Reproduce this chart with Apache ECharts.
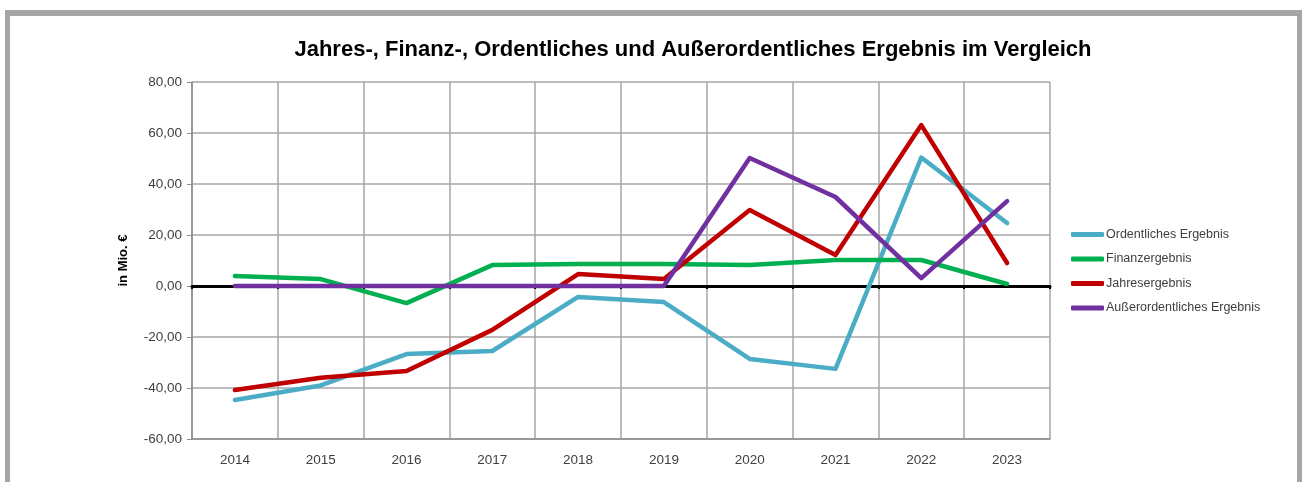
<!DOCTYPE html>
<html>
<head>
<meta charset="utf-8">
<script src="https://cdn.jsdelivr.net/npm/echarts@6/dist/echarts.min.js"></script>
<style>
  html, body { margin: 0; padding: 0; background: #fff; }
  #chart { width: 1302px; height: 482px; }
</style>
</head>
<body>
<div id="chart"></div>
<script>
const years = ['2014', '2015', '2016', '2017', '2018', '2019', '2020', '2021', '2022', '2023'];
const ordentlich = [-44.7, -39.0, -26.7, -25.5, -4.3, -6.3, -28.6, -32.5, 50.4, 24.7];
const finanz = [3.9, 2.7, -6.7, 8.2, 8.6, 8.6, 8.2, 10.2, 10.2, 0.8];
const jahres = [-40.8, -36.0, -33.3, -17.2, 4.7, 2.7, 29.8, 12.2, 63.1, 9.0];
const ausserordentlich = [0, 0, 0, 0, 0, 0, 50.2, 34.9, 3.1, 33.3];
const yTicks = { min: -60, max: 80, interval: 20 };

const font = '"Liberation Sans", Arial, sans-serif';

const chart = echarts.init(document.getElementById('chart'));

function lineSeries(name, data, color) {
    return {
        name: name,
        type: 'line',
        data: data,
        showSymbol: false,
        symbol: 'none',
        lineStyle: { color: color, width: 4.5, cap: 'round', join: 'round' },
        itemStyle: { color: color },
        z: 3
    };
}

chart.setOption({
    animation: false,
    title: {
        text: 'Jahres-, Finanz-, Ordentliches und Außerordentliches Ergebnis im Vergleich',
        left: 688,
        textAlign: 'center',
        top: 34,
        textStyle: { fontFamily: font, fontSize: 22, fontWeight: 'bold', color: '#000' }
    },
    legend: {
        orient: 'vertical',
        left: 1066,
        top: 223,
        itemWidth: 33,
        itemHeight: 5,
        itemGap: 11.5,
        icon: 'roundRect',
        textStyle: { fontFamily: font, fontSize: 12.5, color: '#404040', padding: [0, 0, 0, -3] },
        data: ['Ordentliches Ergebnis', 'Finanzergebnis', 'Jahresergebnis', 'Außerordentliches Ergebnis']
    },
    grid: { left: 192, right: 252, top: 82, bottom: 43 },
    xAxis: [{
        type: 'category',
        data: years,
        boundaryGap: true,
        axisLine: { onZero: false, lineStyle: { color: '#8c8c8c', width: 1.5 } },
        axisTick: { show: false },
        axisLabel: { fontFamily: font, fontSize: 13.5, color: '#404040', margin: 14 },
        splitLine: { show: true, lineStyle: { color: '#a6a6a6', width: 1.5 } }
    }, {
        type: 'category',
        data: years,
        boundaryGap: true,
        position: 'bottom',
        axisLine: { onZero: true, lineStyle: { color: '#000', width: 3 } },
        axisTick: { show: true, inside: false, length: 3, lineStyle: { color: '#000', width: 2 } },
        axisLabel: { show: false },
        splitLine: { show: false },
        z: 2
    }],
    yAxis: {
        type: 'value',
        min: yTicks.min,
        max: yTicks.max,
        interval: yTicks.interval,
        name: 'in Mio. €',
        nameLocation: 'middle',
        nameRotate: 90,
        nameGap: 62,
        nameTextStyle: { fontFamily: font, fontSize: 13, fontWeight: 'bold', color: '#000' },
        axisLine: { show: true, lineStyle: { color: '#8c8c8c', width: 1.5 } },
        axisTick: { show: true, length: 5, lineStyle: { color: '#8c8c8c' } },
        axisLabel: {
            fontFamily: font, fontSize: 13.5, color: '#404040', margin: 10,
            formatter: v => v.toFixed(2).replace('.', ',')
        },
        splitLine: { show: true, lineStyle: { color: '#a6a6a6', width: 1.5 } }
    },
    graphic: [
        { type: 'rect', shape: { x: 5, y: 10, width: 5, height: 480 }, style: { fill: '#a6a6a6' } },
        { type: 'rect', shape: { x: 5, y: 10, width: 1297, height: 6 }, style: { fill: '#a6a6a6' } },
        { type: 'rect', shape: { x: 1297, y: 10, width: 5, height: 480 }, style: { fill: '#a6a6a6' } }
    ],
    series: [
        lineSeries('Ordentliches Ergebnis', ordentlich, '#4bacc6'),
        lineSeries('Finanzergebnis', finanz, '#00b050'),
        lineSeries('Jahresergebnis', jahres, '#c00000'),
        lineSeries('Außerordentliches Ergebnis', ausserordentlich, '#7030a0')
    ]
});
</script>
</body>
</html>
